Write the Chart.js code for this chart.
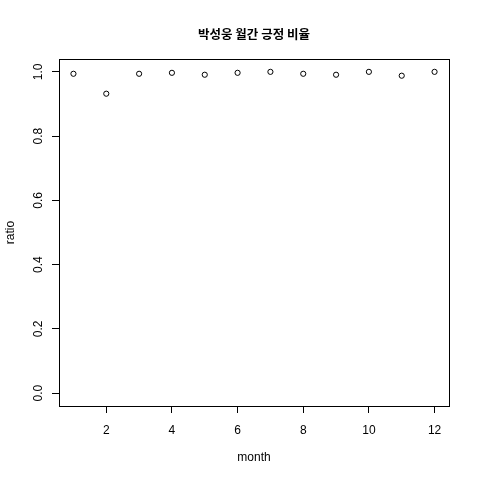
<!DOCTYPE html>
<html>
<head>
<meta charset="utf-8">
<script src="https://cdn.jsdelivr.net/npm/chart.js@4/dist/chart.umd.min.js"></script>
<style>
html,body{margin:0;padding:0;background:#fff;}
#c{display:block;}
</style>
</head>
<body>
<canvas id="c" width="480" height="480"></canvas>
<script>
const chartTitle = "박성웅 월간 긍정 비율";
const months = [1, 2, 3, 4, 5, 6, 7, 8, 9, 10, 11, 12];
const ratios = [0.994, 0.932, 0.994, 0.997, 0.991, 0.997, 1.0, 0.994, 0.991, 1.0, 0.988, 1.0];
const xTicks = [2, 4, 6, 8, 10, 12];
const yTicks = [0.0, 0.2, 0.4, 0.6, 0.8, 1.0];

const boxPlugin = {
  id: 'box',
  afterDraw(chart) {
    const a = chart.chartArea, ctx = chart.ctx;
    ctx.save();
    ctx.strokeStyle = '#000';
    ctx.lineWidth = 1;
    ctx.strokeRect(Math.round(a.left) + 0.5, Math.round(a.top) + 0.5,
                   Math.round(a.right - a.left), Math.round(a.bottom - a.top));
    ctx.restore();
  }
};

const tickFont = {family: "'Liberation Sans', Arial, sans-serif", size: 12};

new Chart(document.getElementById('c'), {
  type: 'scatter',
  data: {
    datasets: [{
      data: months.map((m, i) => ({x: m, y: ratios[i]})),
      pointStyle: 'circle',
      pointRadius: 2.6,
      pointBorderWidth: 1,
      pointBorderColor: '#000',
      pointBackgroundColor: 'rgba(0,0,0,0)',
      showLine: false
    }]
  },
  options: {
    responsive: false,
    animation: false,
    layout: {padding: {left: 0, right: 31, top: 0, bottom: 0}},
    plugins: {
      legend: {display: false},
      tooltip: {enabled: false},
      title: {
        display: true,
        fullSize: false,
        text: chartTitle,
        color: '#000',
        font: {family: "'Noto Sans CJK KR', sans-serif", size: 12.5, weight: 'bold', lineHeight: 1.2},
        padding: {top: 27, bottom: 17}
      }
    },
    scales: {
      x: {
        type: 'linear',
        min: 0.56,
        max: 12.44,
        afterBuildTicks: s => { s.ticks = xTicks.map(v => ({value: v})); },
        afterFit: s => { s.height = 74; },
        grid: {display: true, drawOnChartArea: false, drawTicks: true, tickLength: 7, color: '#000', lineWidth: 1},
        border: {display: true, color: '#000', width: 1},
        ticks: {color: '#000', font: tickFont, padding: 10, maxRotation: 0, minRotation: 0, callback: v => String(v)},
        title: {display: true, text: 'month', color: '#000', font: {family: "'Liberation Sans', Arial, sans-serif", size: 12, lineHeight: 1.2}, padding: {top: 0, bottom: 15}}
      },
      y: {
        type: 'linear',
        min: -0.04,
        max: 1.04,
        afterBuildTicks: s => { s.ticks = yTicks.map(v => ({value: v})); },
        afterFit: s => { s.width = 59; },
        grid: {display: true, drawOnChartArea: false, drawTicks: true, tickLength: 7, color: '#000', lineWidth: 1},
        border: {display: true, color: '#000', width: 1},
        ticks: {color: '#000', font: tickFont, padding: 5, minRotation: 90, maxRotation: 90, crossAlign: 'center', callback: v => Number(v).toFixed(1)},
        title: {display: true, text: 'ratio', color: '#000', font: {family: "'Liberation Sans', Arial, sans-serif", size: 12, lineHeight: 1.2}, padding: {top: 3, bottom: 0}}
      }
    }
  },
  plugins: [boxPlugin]
});
</script>
</body>
</html>
